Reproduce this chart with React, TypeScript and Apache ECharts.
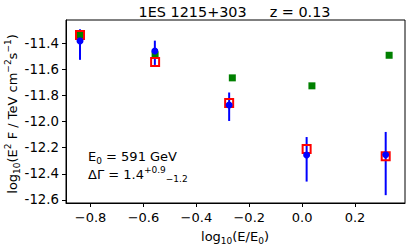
import React, { useEffect, useRef } from "react";
import * as echarts from "echarts";

const blueX = [-0.840, -0.557, -0.276, 0.017, 0.316];
const blueY = [-11.382, -11.459, -11.873, -12.255, -12.253];
const blueLo = [-11.527, -11.566, -11.995, -12.459, -12.563];
const blueHi = [-11.293, -11.380, -11.777, -12.118, -12.079];
const redX = [-0.840, -0.556, -0.276, 0.017, 0.316];
const redY = [-11.337, -11.543, -11.858, -12.209, -12.266];
const greenX = [-0.840, -0.556, -0.264, 0.037, 0.329];
const greenY = [-11.337, -11.489, -11.665, -11.726, -11.492];
const xTicks = [-0.8, -0.6, -0.4, -0.2, 0.0, 0.2];
const yTicks = [-12.6, -12.4, -12.2, -12.0, -11.8, -11.6, -11.4];

const FONT = "DejaVu Sans";

export default function App() {
  const ref = useRef<HTMLDivElement>(null);
  useEffect(() => {
    const chart = echarts.init(ref.current!, null, { renderer: "svg" });
    const rich = {
      n: { fontSize: 13, fontFamily: FONT, color: "#000", lineHeight: 18, verticalAlign: "middle" },
      sub: { fontSize: 9, fontFamily: FONT, color: "#000", lineHeight: 9, verticalAlign: "bottom" },
      sup: { fontSize: 9, fontFamily: FONT, color: "#000", lineHeight: 9, verticalAlign: "top" },
    };
    chart.setOption({
      animation: false,
      grid: { left: 66, top: 20, right: 10, bottom: 44, show: true, borderColor: "#000", borderWidth: 1 },
      xAxis: {
        type: "value",
        min: -0.893,
        max: 0.389,
        splitLine: { show: false },
        axisLine: { show: true, onZero: false, lineStyle: { color: "#000", width: 1 } },
        axisTick: { show: true, length: 4, lineStyle: { color: "#000" }, customValues: xTicks },
        axisLabel: {
          customValues: xTicks,
          margin: 8,
          fontSize: 13,
          fontFamily: FONT,
          color: "#000",
          formatter: (v: number) => v.toFixed(1).replace("-", "\u2212"),
        },
      },
      yAxis: {
        type: "value",
        min: -12.623,
        max: -11.222,
        splitLine: { show: false },
        axisLine: { show: true, onZero: false, lineStyle: { color: "#000", width: 1 } },
        axisTick: { show: true, length: 4, lineStyle: { color: "#000" }, customValues: yTicks },
        axisLabel: {
          customValues: yTicks,
          margin: 7,
          fontSize: 13.3,
          fontFamily: FONT,
          color: "#000",
          formatter: (v: number) => v.toFixed(1),
        },
      },
      graphic: [
        {
          type: "text",
          x: 234.5,
          y: 11.7,
          style: {
            text: "{n|1ES 1215+303}{g|z = 0.13}",
            align: "center",
            verticalAlign: "middle",
            rich: {
              n: { fontSize: 14.4, fontFamily: FONT, color: "#000" },
              g: { fontSize: 14.4, fontFamily: FONT, color: "#000", padding: [0, 0, 0, 23] },
            },
          },
        },
        {
          type: "text",
          x: 12,
          y: 114,
          rotation: Math.PI / 2,
          style: {
            text: "{n|log}{sub|10}{n|(E}{sup|2}{n| F / TeV cm}{sup|\u22122}{n|s}{sup|\u22121}{n|)}",
            rich,
            align: "center",
            verticalAlign: "middle",
          },
        },
        {
          type: "text",
          x: 235,
          y: 236,
          style: {
            text: "{n|log}{sub|10}{n|(E/E}{sub|0}{n|)}",
            rich,
            align: "center",
            verticalAlign: "middle",
          },
        },
        {
          type: "text",
          x: 88,
          y: 165,
          style: {
            text: "{n|E}{sub|0}{n| = 591 GeV}\n{n|\u0394\u0393 = 1.4}{sup|+0.9}{sub|\u22121.2}",
            rich,
            align: "left",
            verticalAlign: "middle",
          },
        },
      ],
      series: [
        {
          type: "custom",
          z: 1,
          data: blueX.map((x, i) => [x, blueLo[i], blueHi[i]]),
          renderItem: (params: any, api: any) => {
            const p1 = api.coord([api.value(0), api.value(1)]);
            const p2 = api.coord([api.value(0), api.value(2)]);
            return {
              type: "line",
              shape: { x1: p1[0], y1: p1[1], x2: p2[0], y2: p2[1] },
              style: { stroke: "#0000ff", lineWidth: 2 },
            };
          },
        },
        {
          type: "scatter",
          z: 2,
          symbol: "rect",
          symbolSize: 7,
          itemStyle: { color: "#008000", opacity: 1 },
          data: greenX.map((x, i) => [x, greenY[i]]),
        },
        {
          type: "scatter",
          z: 3,
          symbol: "rect",
          symbolSize: 8,
          itemStyle: { color: "rgba(0,0,0,0)", borderColor: "#ff0000", borderWidth: 2, opacity: 1 },
          data: redX.map((x, i) => [x, redY[i]]),
        },
        {
          type: "scatter",
          z: 4,
          symbol: "circle",
          symbolSize: 7,
          itemStyle: { color: "#0000ff", opacity: 1 },
          data: blueX.map((x, i) => [x, blueY[i]]),
        },
      ],
    });
    return () => chart.dispose();
  }, []);
  return <div ref={ref} style={{ width: 415, height: 247, position: "absolute", left: 0, top: 0 }} />;
}
